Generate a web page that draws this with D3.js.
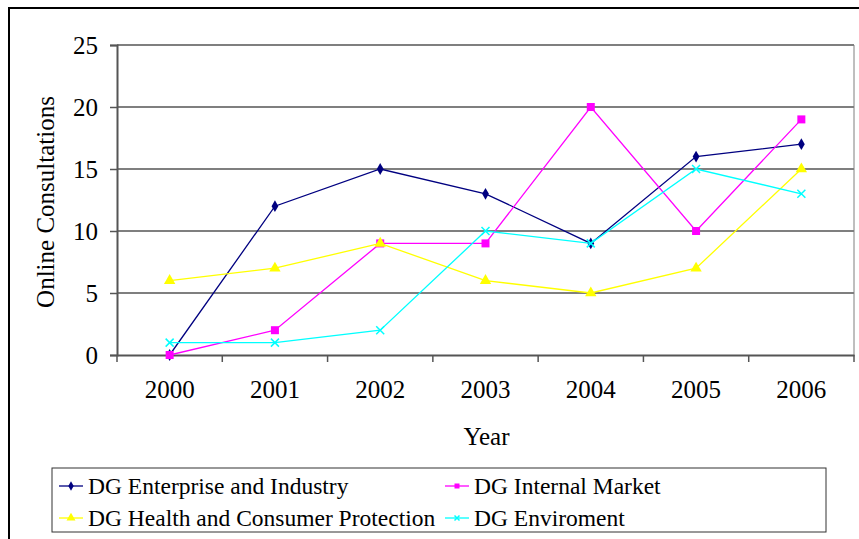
<!DOCTYPE html>
<html>
<head>
<meta charset="utf-8">
<script src="https://cdn.jsdelivr.net/npm/d3@7"></script>
<style>
  body { margin: 0; background: #fff; }
  svg text { font-family: "Liberation Serif", "Times New Roman", serif; fill: #000; }
</style>
</head>
<body>
<div id="chart"></div>
<script>
const years = ['2000', '2001', '2002', '2003', '2004', '2005', '2006'];
const enterprise = [0, 12, 15, 13, 9, 16, 17];
const internalMarket = [0, 2, 9, 9, 20, 10, 19];
const health = [6, 7, 9, 6, 5, 7, 15];
const environment = [1, 1, 2, 10, 9, 15, 13];
const yTicks = [0, 5, 10, 15, 20, 25];

const series = [
  { name: 'DG Enterprise and Industry', values: enterprise, color: '#000080', symbol: 'diamond' },
  { name: 'DG Internal Market', values: internalMarket, color: '#ff00ff', symbol: 'square' },
  { name: 'DG Health and Consumer Protection', values: health, color: '#ffff00', symbol: 'triangle' },
  { name: 'DG Enviroment', values: environment, color: '#00ffff', symbol: 'cross' }
];

const width = 859;
const height = 539;
const plotLeft = 117, plotRight = 854, plotTop = 45, plotBottom = 355;

const svg = d3.select('#chart').append('svg')
  .attr('width', width)
  .attr('height', height);

// 外枠
svg.append('rect')
  .attr('x', 9).attr('y', 8)
  .attr('width', 860).attr('height', 540)
  .attr('fill', 'none')
  .attr('stroke', '#000')
  .attr('stroke-width', 2);

const xScale = d3.scaleBand().domain(years).range([plotLeft, plotRight]);
const yScale = d3.scaleLinear().domain([0, 25]).range([plotBottom, plotTop]);

// グリッド
svg.append('g')
  .selectAll('line')
  .data(yTicks.slice(1))
  .join('line')
  .attr('x1', plotLeft).attr('x2', plotRight)
  .attr('y1', d => yScale(d)).attr('y2', d => yScale(d))
  .attr('stroke', '#7f7f7f')
  .attr('stroke-width', 2);

// プロット右端
svg.append('line')
  .attr('x1', plotRight).attr('x2', plotRight)
  .attr('y1', plotTop).attr('y2', plotBottom)
  .attr('stroke', '#7f7f7f')
  .attr('stroke-width', 1);

// Y軸
const axisY = svg.append('g')
  .attr('transform', 'translate(' + plotLeft + ',0)')
  .call(d3.axisLeft(yScale).tickValues(yTicks).tickSize(7).tickPadding(12));
axisY.select('.domain').attr('stroke', '#555').attr('stroke-width', 2);
axisY.selectAll('.tick line').attr('stroke', '#555').attr('stroke-width', 1.5);
axisY.selectAll('text')
  .style('font-family', '"Liberation Serif", serif')
  .style('font-size', '25px')
  .attr('fill', '#000');

// X軸
const axisX = svg.append('g')
  .attr('transform', 'translate(0,' + plotBottom + ')')
  .call(d3.axisBottom(xScale).tickSize(0).tickPadding(25));
axisX.select('.domain').attr('stroke', '#555').attr('stroke-width', 2);
axisX.selectAll('text')
  .style('font-family', '"Liberation Serif", serif')
  .style('font-size', '25px')
  .attr('fill', '#000');

// X軸の目盛り（カテゴリの境界）
const bounds = years.map(y => xScale(y)).concat([plotRight]);
svg.append('g')
  .selectAll('line')
  .data(bounds)
  .join('line')
  .attr('x1', d => d).attr('x2', d => d)
  .attr('y1', plotBottom).attr('y2', plotBottom + 7)
  .attr('stroke', '#555')
  .attr('stroke-width', 1.5);

// 軸タイトル
svg.append('text')
  .attr('transform', 'translate(54,' + ((plotTop + plotBottom) / 2 + 2) + ') rotate(-90)')
  .attr('text-anchor', 'middle')
  .style('font-size', '25px')
  .text('Online Consultations');

svg.append('text')
  .attr('x', (plotLeft + plotRight) / 2 + 1)
  .attr('y', 445)
  .attr('text-anchor', 'middle')
  .style('font-size', '25px')
  .text('Year');

function drawSymbol(g, type, color, size) {
  if (type === 'diamond') {
    g.append('path')
      .attr('d', d3.symbol(d3.symbolDiamond, size * 5)())
      .attr('fill', color);
  } else if (type === 'square') {
    g.append('rect')
      .attr('x', -size / 2).attr('y', -size / 2)
      .attr('width', size).attr('height', size)
      .attr('fill', color);
  } else if (type === 'triangle') {
    g.append('path')
      .attr('d', d3.symbol(d3.symbolTriangle, size * 7)())
      .attr('fill', color);
  } else {
    const s = size / 2;
    g.append('path')
      .attr('d', 'M' + (-s) + ',' + (-s) + 'L' + s + ',' + s + 'M' + (-s) + ',' + s + 'L' + s + ',' + (-s))
      .attr('stroke', color)
      .attr('stroke-width', 1.5);
  }
}

const line = d3.line()
  .x((d, i) => xScale(years[i]) + xScale.bandwidth() / 2)
  .y(d => yScale(d));

series.forEach(function (s) {
  svg.append('path')
    .datum(s.values)
    .attr('fill', 'none')
    .attr('stroke', s.color)
    .attr('stroke-width', 1.3)
    .attr('d', line);

  s.values.forEach(function (v, i) {
    const g = svg.append('g')
      .attr('transform', 'translate(' + (xScale(years[i]) + xScale.bandwidth() / 2) + ',' + yScale(v) + ')');
    drawSymbol(g, s.symbol, s.color, 8);
  });
});

// 凡例
svg.append('rect')
  .attr('x', 52).attr('y', 468)
  .attr('width', 774).attr('height', 64)
  .attr('fill', '#fff')
  .attr('stroke', '#333')
  .attr('stroke-width', 1);

const legendPos = [[59, 486], [445, 486], [59, 518], [445, 518]];
series.forEach(function (s, i) {
  const p = legendPos[i];
  const g = svg.append('g').attr('transform', 'translate(' + p[0] + ',' + p[1] + ')');
  g.append('line')
    .attr('x1', 0).attr('x2', 24)
    .attr('stroke', s.color)
    .attr('stroke-width', 1.3);
  const m = g.append('g').attr('transform', 'translate(12,0)');
  drawSymbol(m, s.symbol, s.color, 5);
  g.append('text')
    .attr('x', 29)
    .attr('y', 8)
    .style('font-size', '23.5px')
    .text(s.name);
});
</script>
</body>
</html>
